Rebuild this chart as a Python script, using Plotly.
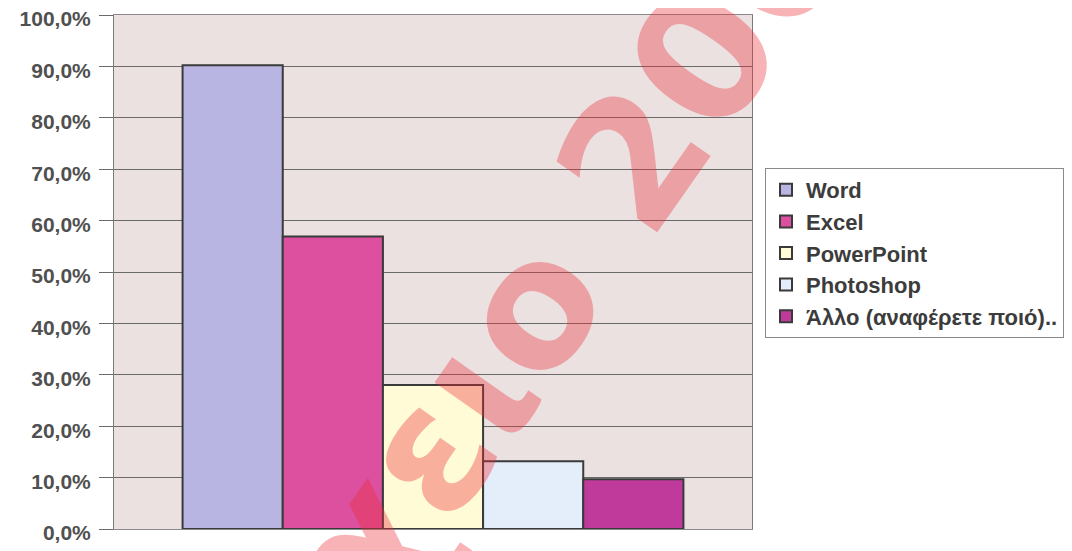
import plotly.graph_objects as go

series = ["Word", "Excel", "PowerPoint", "Photoshop", "Άλλο (αναφέρετε ποιό).."]
values = [0.902, 0.569, 0.280, 0.132, 0.097]
colors = ["#b9b5e2", "#dc509f", "#fffbd6", "#e4eefa", "#c03a9b"]
category = [""]
y_ticks = [0, 0.1, 0.2, 0.3, 0.4, 0.5, 0.6, 0.7, 0.8, 0.9, 1.0]

# page body has an 8px margin, so the figure is drawn 8px in from the window edge
W, H = 1064, 543
L, R, T, B = 106, 320, 7, 22
pw, ph = W - L - R, H - T - B

def px_to_paper(x, y):
    return (x - L) / pw, (H - B - y) / ph

fig = go.Figure()
for name, v, c in zip(series, values, colors):
    fig.add_trace(go.Bar(
        x=category, y=[v], name=name,
        marker=dict(color=c, line=dict(color="#3a3a3a", width=2)),
        legendgroup=name,
    ))

wx, wy = px_to_paper(600, 190)
fig.add_annotation(
    x=wx, y=wy, xref="paper", yref="paper",
    text="<b>χειο 2009</b>", showarrow=False, textangle=-55,
    font=dict(family="DejaVu Sans", size=176, color="rgba(235,45,55,0.36)"),
    xanchor="center", yanchor="middle",
)

lx, ly = px_to_paper(757, 160)
fig.update_layout(
    width=W, height=H,
    margin=dict(l=L, r=R, t=T, b=B, autoexpand=False),
    paper_bgcolor="white",
    plot_bgcolor="#ebe1e1",
    barmode="group", bargap=0.215, bargroupgap=0,
    separators=",.",
    font=dict(family="Liberation Sans", color="#3c3c3c"),
    showlegend=True,
    legend=dict(
        x=lx, y=ly, xanchor="left", yanchor="top",
        bgcolor="white", bordercolor="#8a8a8a", borderwidth=1,
        font=dict(size=22, color="#3c3c3c", weight="bold"),
        tracegroupgap=15, traceorder="normal",
    ),
    xaxis=dict(showticklabels=False, showgrid=False, zeroline=False,
               showline=True, linecolor="#8a8a8a", linewidth=1, mirror=True,
               ticks="", automargin=False),
    yaxis=dict(range=[0, 1.0], tickvals=y_ticks, tickformat=".1%",
               showgrid=True, gridcolor="#6a6a6a", gridwidth=1,
               zeroline=False, showline=True, linecolor="#7a7a7a", linewidth=1,
               mirror=True, ticks="outside", ticklen=14, tickcolor="#6a6a6a",
               automargin=False, ticklabeloverflow="allow",
               ticklabelstandoff=4, ticklabelshift=4,
               tickfont=dict(size=21, color="#505050", weight="bold")),
)

fig.write_html("out.html")
